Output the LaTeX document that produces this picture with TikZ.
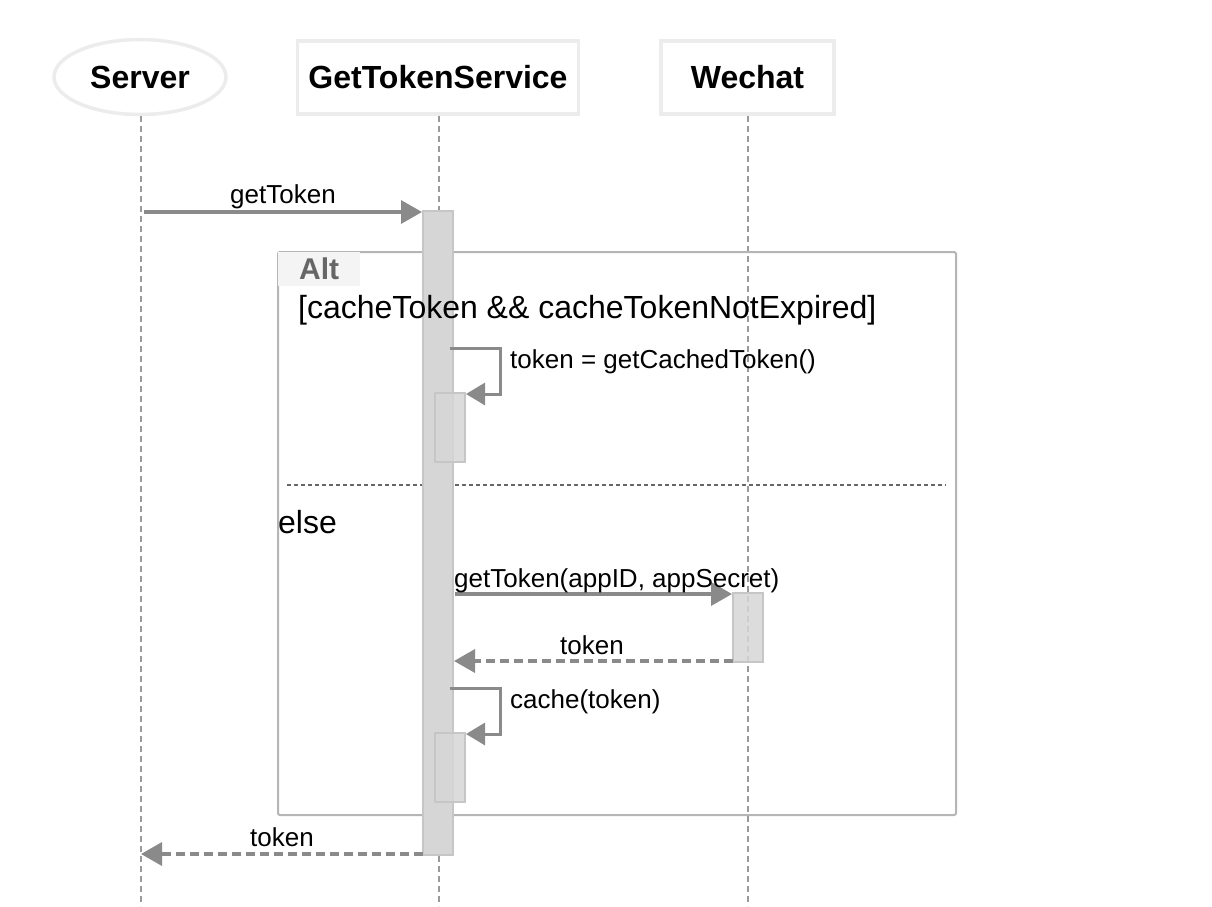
\documentclass[tikz,border=0pt]{standalone}
\usepackage{fontspec}
\setmainfont{Liberation Sans}
\usetikzlibrary{arrows.meta,shapes.geometric}
\definecolor{arrowgray}{HTML}{8A8A8A}
\definecolor{lifegray}{HTML}{9A9A9A}
\definecolor{boxgray}{HTML}{ECECEC}
\definecolor{framegray}{HTML}{B5B5B5}
\definecolor{barfill}{HTML}{D6D6D6}
\definecolor{barline}{HTML}{C6C6C6}
\definecolor{altbg}{HTML}{F4F4F4}
\definecolor{alttext}{HTML}{666666}
\definecolor{sepgray}{HTML}{666666}
\begin{document}
\begin{tikzpicture}[x=1pt,y=-1pt,
  titlefont/.style={font=\fontsize{32}{36}\selectfont\bfseries},
  lblfont/.style={font=\fontsize{26}{30}\selectfont},
  bigfont/.style={font=\fontsize{32}{36}\selectfont},
  participant/.style={draw=boxgray, line width=3.5pt, fill=white, inner sep=0pt, titlefont},
  lifeline/.style={draw=lifegray, line width=1.5pt, dash pattern=on 6pt off 4pt},
  actbar/.style={draw=barline, line width=2pt, fill=barfill, inner sep=0pt, minimum width=30pt},
  smallbar/.style={actbar, fill opacity=0.85},
  msg/.style={draw=arrowgray, line width=3.5pt, -{Triangle[length=21pt,width=23pt]}},
  ret/.style={msg, dash pattern=on 9pt off 5pt},
  selfmsg/.style={draw=arrowgray, line width=3pt, -{Triangle[length=19pt,width=22pt]}},
  msglbl/.style={lblfont, anchor=base, inner sep=0pt},
  frame/.style={draw=framegray, line width=2pt, rounded corners=2pt, inner sep=0pt}
]
\useasboundingbox (0,0) rectangle (1212,906);

% participants
\node[participant, ellipse, minimum width=172pt, minimum height=75pt] (server) at (140,77) {Server};
\node[participant, rectangle, minimum width=281pt, minimum height=73pt] (gts) at (438,77.5) {GetTokenService};
\node[participant, rectangle, minimum width=173pt, minimum height=73pt] (wechat) at (747.5,77.5) {Wechat};

% lifelines
\coordinate (serverEnd) at (141,906);
\coordinate (gtsEnd) at (439,906);
\coordinate (wechatEnd) at (748,906);
\draw[lifeline] (serverEnd |- 0,116) -- (serverEnd);
\draw[lifeline] (gtsEnd |- 0,116) -- (gtsEnd);
\draw[lifeline] (wechatEnd |- 0,116) -- (wechatEnd);

% alt frame
\node[frame, minimum width=678pt, minimum height=563pt, anchor=north west] (alt) at (277,251) {};
\node[fill=altbg, anchor=north west, minimum width=82pt, minimum height=34pt, inner sep=0pt,
      font=\fontsize{30}{34}\selectfont\bfseries, text=alttext] (altlbl) at (278,252) {Alt};
\draw[draw=sepgray, line width=1.5pt, dash pattern=on 4pt off 3pt] (287,485) -- (946,485);

% main activation bar
\node[actbar, minimum height=644pt] (act1) at (438,533) {};

% condition texts
\node[bigfont, anchor=base west, inner sep=0pt] (cond) at (298,318) {[cacheToken \&\& cacheTokenNotExpired]};
\node[bigfont, anchor=base west, inner sep=0pt] (elsel) at (278,533) {else};

% getToken from Server
\coordinate (s1) at (144,212);
\draw[msg] (s1) -- (s1 -| act1.west);
\node[msglbl] (l1) at (283,203) {getToken};

% self call 1
\node[smallbar, minimum height=69pt] (act2) at (450,427.5) {};
\coordinate (sc1a) at (450,348);
\coordinate (sc1b) at (500,348);
\draw[selfmsg] (sc1a) -- (sc1b) |- (act2.east |- 0,394);
\node[lblfont, anchor=base west, inner sep=0pt] (l2) at (510,368) {token = getCachedToken()};

% Wechat call
\node[smallbar, minimum height=69pt] (act3) at (748,627.5) {};
\coordinate (w1) at (455,594);
\draw[msg] (w1) -- (w1 -| act3.west);
\node[lblfont, anchor=base west, inner sep=0pt] (l3) at (454,587) {getToken(appID, appSecret)};

% return token from Wechat
\coordinate (w2) at (733,661);
\draw[ret] (w2) -- (w2 -| act1.east);
\node[msglbl] (l4) at (592,654) {token};

% self call 2
\node[smallbar, minimum height=69pt] (act4) at (450,767.5) {};
\coordinate (sc2a) at (450,688);
\coordinate (sc2b) at (500,688);
\draw[selfmsg] (sc2a) -- (sc2b) |- (act4.east |- 0,734);
\node[lblfont, anchor=base west, inner sep=0pt] (l5) at (510,708) {cache(token)};

% final return
\coordinate (r1) at (423,854);
\draw[ret] (r1) -- (r1 -| serverEnd);
\node[msglbl] (l6) at (282,846) {token};
\end{tikzpicture}
\end{document}
